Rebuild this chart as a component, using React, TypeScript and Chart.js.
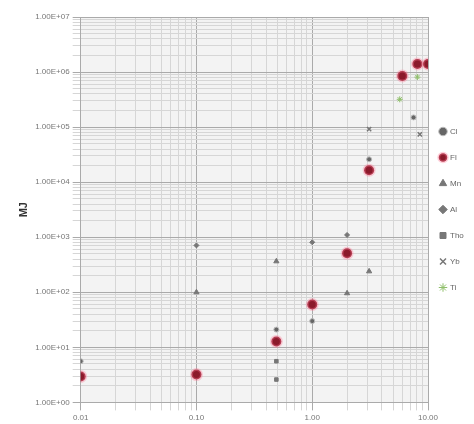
import React, { useEffect, useRef } from "react";
import { Chart, registerables } from "chart.js";

Chart.register(...registerables);

const xTicks = [0.01, 0.1, 1, 10];
const yTicks = [1, 10, 100, 1000, 1e4, 1e5, 1e6, 1e7];
const yTitle = "MJ";

const clPts = [
  { x: 0.01, y: 5.6 }, { x: 0.49, y: 21 }, { x: 1, y: 30 }, { x: 3.1, y: 26000 }, { x: 7.5, y: 150000 },
];
const flPts = [
  { x: 0.01, y: 2.96 }, { x: 0.1, y: 3.2 }, { x: 0.49, y: 12.8 }, { x: 1, y: 60 }, { x: 2, y: 510 },
  { x: 3.1, y: 16500 }, { x: 6, y: 850000 }, { x: 8.1, y: 1400000 }, { x: 10, y: 1400000 },
];
const mnPts = [
  { x: 0.1, y: 100 }, { x: 0.49, y: 365 }, { x: 2, y: 96 }, { x: 3.1, y: 240 },
];
const alPts = [
  { x: 0.1, y: 710 }, { x: 1, y: 810 }, { x: 2, y: 1100 },
];
const thoPts = [
  { x: 0.49, y: 5.6 }, { x: 0.49, y: 2.6 },
];
const ybPts = [
  { x: 3.1, y: 92000 }, { x: 8.5, y: 74000 },
];
const tiPts = [
  { x: 8.1, y: 810000 }, { x: 5.7, y: 320000 },
];

const isPow10 = (v: number) => Math.abs(Math.log10(v) - Math.round(Math.log10(v))) < 1e-9;
const fmtY = (v: number) => {
  const e = Math.round(Math.log10(v));
  const s = e < 0 ? "-" : "+";
  return "1.00E" + s + String(Math.abs(e)).padStart(2, "0");
};

const bgPlugin = {
  id: "bgArea",
  beforeDraw(chart: any) {
    const { ctx, chartArea } = chart;
    ctx.save();
    ctx.fillStyle = "#f3f3f3";
    ctx.fillRect(chartArea.left, chartArea.top, chartArea.right - chartArea.left, chartArea.bottom - chartArea.top);
    ctx.restore();
  },
  afterLayout(chart: any) {
    const lg = chart.legend;
    if (lg) {
      lg.left -= 6;
      lg.right -= 6;
      lg.top -= 12;
      lg.bottom -= 12;
    }
  },
};

export default function App() {
  const ref = useRef<HTMLCanvasElement>(null);
  useEffect(() => {
    if (!ref.current) return;
    const grey = "#777";
    const chart = new Chart(ref.current, {
      type: "scatter",
      data: {
        datasets: [
          { label: "Cl", data: clPts, pointStyle: "circle", pointRadius: 2.5, backgroundColor: "#666", borderColor: "#bbb", borderWidth: 1 },
          { label: "Fl", data: flPts, pointStyle: "circle", pointRadius: 5, backgroundColor: "#8b1a2b", borderColor: "rgba(255,120,150,0.35)", borderWidth: 3 },
          { label: "Mn", data: mnPts, pointStyle: "triangle", pointRadius: 3, backgroundColor: grey, borderColor: grey, borderWidth: 1 },
          { label: "Al", data: alPts, pointStyle: "rectRot", pointRadius: 2.5, backgroundColor: grey, borderColor: grey, borderWidth: 1 },
          { label: "Tho", data: thoPts, pointStyle: "rect", pointRadius: 2.5, backgroundColor: grey, borderColor: grey, borderWidth: 1 },
          { label: "Yb", data: ybPts, pointStyle: "crossRot", pointRadius: 3, backgroundColor: grey, borderColor: grey, borderWidth: 1.5 },
          { label: "Ti", data: tiPts, pointStyle: "star", pointRadius: 3, backgroundColor: "#8fbf6a", borderColor: "#8fbf6a", borderWidth: 1 },
        ],
      },
      options: {
        animation: false,
        responsive: true,
        maintainAspectRatio: false,
        layout: { padding: { top: 9, right: 0, left: 7, bottom: 0 } },
        plugins: {
          legend: {
            position: "right",
            maxWidth: 46,
            labels: {
              usePointStyle: true,
              boxWidth: 6,
              boxHeight: 6,
              padding: 18,
              color: "#666",
              font: { size: 8, family: "Liberation Sans" },
            },
          },
          tooltip: { enabled: false },
        },
        scales: {
          x: {
            type: "logarithmic",
            min: xTicks[0],
            max: xTicks[xTicks.length - 1],
            afterBuildTicks: (axis: any) => {
              const t: any[] = [];
              for (let e = -2; e < 1; e++) for (let m = 1; m <= 9; m++) t.push({ value: m * Math.pow(10, e) });
              t.push({ value: 10 });
              axis.ticks = t;
            },
            grid: {
              color: (c: any) => (c.tick && isPow10(c.tick.value) ? "#aaa" : "#d6d6d6"),
              lineWidth: 1,
            },
            border: { color: "#aaa" },
            ticks: {
              autoSkip: false,
              maxRotation: 0,
              color: "#777",
              font: { size: 8, family: "Liberation Sans" },
              callback: (v: any) => {
                const n = Number(v);
                return xTicks.some((t) => Math.abs(t - n) / t < 1e-9) ? n.toFixed(2) : "";
              },
            },
          },
          y: {
            type: "logarithmic",
            min: yTicks[0],
            max: yTicks[yTicks.length - 1],
            afterBuildTicks: (axis: any) => {
              const t: any[] = [];
              for (let e = 0; e < 7; e++) for (let m = 1; m <= 9; m++) t.push({ value: m * Math.pow(10, e) });
              t.push({ value: 1e7 });
              axis.ticks = t;
            },
            grid: {
              color: (c: any) => (c.tick && isPow10(c.tick.value) ? "#aaa" : "#d6d6d6"),
              lineWidth: 1,
            },
            border: { color: "#aaa" },
            title: {
              display: true,
              text: yTitle,
              color: "#333",
              font: { size: 11, weight: "bold", family: "Liberation Sans" },
              padding: 2,
            },
            ticks: {
              autoSkip: false,
              color: "#777",
              font: { size: 8, family: "Liberation Sans" },
              callback: (v: any) => {
                const n = Number(v);
                return yTicks.some((t) => Math.abs(t - n) / t < 1e-9) ? fmtY(n) : "";
              },
            },
          },
        },
      },
      plugins: [bgPlugin],
    } as any);
    return () => chart.destroy();
  }, []);
  return (
    <div style={{ width: 466, height: 418 }}>
      <canvas ref={ref} />
    </div>
  );
}
